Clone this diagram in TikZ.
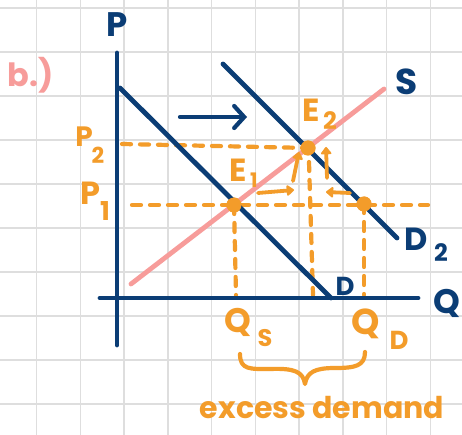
\documentclass[tikz,border=0pt]{standalone}
\usepackage{fontspec}
\setmainfont{Poppins}
\usetikzlibrary{arrows.meta,calc}
\definecolor{navy}{HTML}{0B3D75}
\definecolor{orng}{HTML}{F39C2A}
\definecolor{pinkc}{HTML}{F79C9A}
\definecolor{gridc}{HTML}{DEDEDE}
\newcommand{\fs}[1]{\fontsize{#1}{#1}\selectfont\bfseries}
\tikzset{
  navyline/.style={draw=navy,line width=4.8pt,line cap=round},
  supply/.style={draw=pinkc,line width=4.8pt,line cap=round},
  dashline/.style={draw=orng,line width=4.2pt,line cap=round,dash pattern=on 9pt off 9pt},
  dotpt/.style={circle,fill=orng,inner sep=0pt,minimum size=15pt},
  olab/.style={text=orng,inner sep=0pt},
  nlab/.style={text=navy,inner sep=0pt},
  oarrow/.style={draw=orng,line width=3.8pt,line cap=round,-{Triangle[length=8pt,width=12pt,round]}},
}
\begin{document}
\begin{tikzpicture}[x=1pt,y=-1pt]
\useasboundingbox (0,0) rectangle (462,435);
\fill[white] (0,0) rectangle (462,435);
% grid
\foreach \i in {0,...,9} \draw[gridc,line width=1.5pt] ({36.5+43.75*\i},0) -- ({36.5+43.75*\i},435);
\foreach \j in {0,...,9} \draw[gridc,line width=1.5pt] (0,{8+44*\j}) -- (462,{8+44*\j});
% coordinates
\coordinate (ptop) at (117,53);
\coordinate (pbot) at (117,345);
\coordinate (qleft) at (100,298);
\coordinate (qright) at (418,298);
\coordinate (dtop) at (120,88);
\coordinate (dbot) at (331,298);
\coordinate (d2top) at (223,64);
\coordinate (d2bot) at (397,238);
\coordinate (sbot) at (131,284);
\coordinate (stop) at (384,89);
% dashed lines
\coordinate (p2l) at (122,144);
\coordinate (p1l) at (132,205);
\coordinate (p1r) at (428,205);
\node[dotpt] (e1) at (234,205) {};
\node[dotpt] (e2) at (308,148) {};
\node[dotpt] (e3) at (364,204) {};
\coordinate (qs) at (236,295);
\coordinate (qm) at (313,295);
\coordinate (qd) at (364,295);
\coordinate (e2b) at (309,162);
\draw[dashline] (p2l) -- (e2.center);
\draw[dashline] (p1l) -- (p1r);
\draw[dashline] (e1.center) -- (qs);
\draw[dashline] (e2b) -- (qm);
\draw[dashline] (e3.center) -- (qd);
% axes and curves
\draw[navyline] (ptop) -- (pbot);
\draw[navyline] (qleft) -- (qright);
\draw[navyline] (dtop) -- (dbot);
\draw[navyline] (d2top) -- (d2bot);
\draw[supply] (sbot) -- (stop);
\node[dotpt] at (e1) {};
\node[dotpt] at (e2) {};
\node[dotpt] at (e3) {};
% shift arrow
\coordinate (sa1) at (180,117);
\coordinate (sa2) at (247,117);
\draw[draw=navy,line width=4.2pt,line cap=round,-{Straight Barb[length=10pt,width=22pt,line cap=round]}] (sa1) -- (sa2);
% small arrows
\coordinate (a1s) at (258,193); \coordinate (a1e) at (294,190);
\draw[oarrow] (a1s) -- (a1e);
\coordinate (a2s) at (293,181); \coordinate (a2e) at (299,152);
\draw[oarrow] (a2s) -- (a2e);
\coordinate (a3s) at (327,178); \coordinate (a3e) at (326,147);
\draw[oarrow] (a3s) -- (a3e);
\coordinate (a4s) at (350,193); \coordinate (a4e) at (326,192);
\draw[oarrow] (a4s) -- (a4e);
% labels
\node[text=pinkc,inner sep=0pt,font=\fs{32}] (blab) at (31,75) {b.)};
\node[nlab,font=\fs{34}] (plab) at (117,25) {P};
\node[nlab,font=\fs{34}] (qlab) at (447,303) {Q};
\node[nlab,font=\fs{36}] (slab) at (407,82) {S};
\node[nlab,font=\fs{26}] (dlab) at (345,286) {D};
\node[nlab,font=\fs{32}] (d2lab) at (416,239) {D};
\node[nlab,font=\fs{24}] (d2sub) at (441,253) {2};
\node[olab,font=\fs{28}] (p2lab) at (84,137) {P};
\node[olab,font=\fs{22}] (p2sub) at (98,155) {2};
\node[olab,font=\fs{32}] (p1lab) at (90,193) {P};
\node[olab,font=\fs{26}] (p1sub) at (105,211) {1};
\node[olab,font=\fs{32}] (e1lab) at (238,170) {E};
\node[olab,font=\fs{20}] (e1sub) at (254,180) {1};
\node[olab,font=\fs{32}] (e2lab) at (311,110) {E};
\node[olab,font=\fs{24}] (e2sub) at (330,121) {2};
\node[olab,font=\fs{34}] (qslab) at (238,322) {Q};
\node[olab,font=\fs{24}] (qssub) at (265,338) {S};
\node[olab,font=\fs{36}] (qdlab) at (366,324) {Q};
\node[olab,font=\fs{26}] (qdsub) at (399,340) {D};
% brace
\coordinate (bl) at (240,354);
\coordinate (br) at (365,352);
\coordinate (btip) at (305,384);
\draw[draw=orng,line width=4.2pt,line cap=round,line join=round]
  (bl) .. controls (240,370) and (250,369) .. (270,369)
  .. controls (295,368) and (303,372) .. (btip)
  .. controls (307,372) and (315,368) .. (335,368)
  .. controls (355,368) and (365,366) .. (br);
\node[olab,font=\fs{30}] (exlab) at (322,408) {excess demand};
\end{tikzpicture}
\end{document}
